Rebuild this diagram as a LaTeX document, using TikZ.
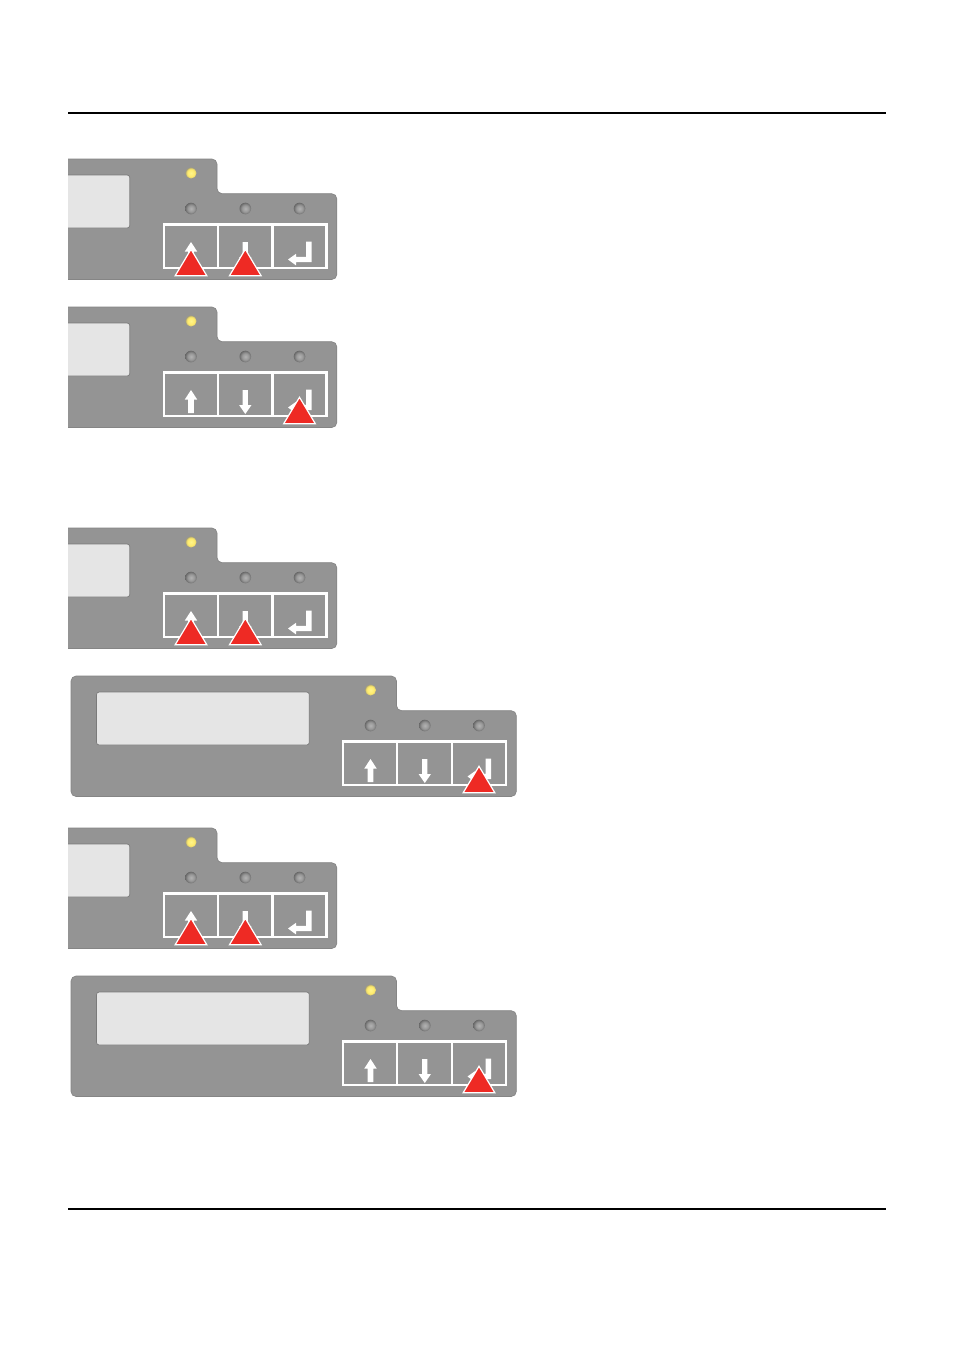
\documentclass[tikz,border=0pt]{standalone}
\definecolor{panelgrey}{HTML}{949494}
\definecolor{paneledge}{HTML}{858585}
\definecolor{dispfill}{HTML}{E5E5E5}
\definecolor{dispedge}{HTML}{7A7A7A}
\definecolor{redmark}{HTML}{EE2A24}
\pgfdeclareradialshading{ledgreyshade}{\pgfpoint{0.5bp}{-0.5bp}}{%
  rgb(0bp)=(0.70,0.70,0.70);rgb(14bp)=(0.60,0.60,0.60);rgb(21bp)=(0.50,0.50,0.50);rgb(25bp)=(0.40,0.40,0.40);rgb(50bp)=(0.40,0.40,0.40)}
\pgfdeclareradialshading{ledyellowshade}{\pgfpoint{0bp}{0bp}}{%
  rgb(0bp)=(1,0.96,0.55);rgb(16bp)=(1,0.92,0.42);rgb(21bp)=(0.88,0.82,0.45);rgb(25bp)=(0.66,0.63,0.45);rgb(50bp)=(0.66,0.63,0.45)}
\tikzset{
  x=0.75pt, y=-0.75pt,
  rulerline/.style={draw=black, line width=1.1pt},
  panelbody/.style={fill=panelgrey, draw=paneledge, line width=0.5pt, rounded corners=3.8pt},
  dispbox/.style={fill=dispfill, draw=dispedge, line width=0.5pt, rounded corners=2pt},
  keybox/.style={draw=white, line width=1.6pt},
  keyarrow/.style={fill=white, draw=none},
  redtriangle/.style={fill=redmark, draw=white, line width=0.9pt, line join=miter},
  ledgrey/.style={shading=ledgreyshade},
  ledyellow/.style={shading=ledyellowshade},
}
\newcommand{\ctrlpanel}[3]{%
  \begin{scope}[shift={(#1,#2)}]
    \begin{scope}
      \clip (#3,660) rectangle (530,810);
      \draw[panelbody] (71,676) -- (396.5,676) -- (396.5,710.7) -- (516.3,710.7) -- (516.3,796.5) -- (71,796.5) -- cycle;
      \draw[dispbox] (96.5,692) rectangle (309.3,745);
    \end{scope}
    \shade[ledyellow] (370.5,690) circle (5.6);
    \shade[ledgrey] (370.5,725.5) circle (5.8);
    \shade[ledgrey] (424.8,725.5) circle (5.8);
    \shade[ledgrey] (479,725.5) circle (5.8);
    \draw[keybox] (343.3,741.5) rectangle (506,785);
    \draw[keybox] (397.3,741.5) -- (397.3,785);
    \draw[keybox] (452,741.5) -- (452,785);
    \fill[keyarrow] (370.5,759) -- (376.7,768.5) -- (373.4,768.5) -- (373.4,782) -- (367.6,782) -- (367.6,768.5) -- (364.3,768.5) -- cycle;
    \fill[keyarrow] (424.8,783) -- (431,774) -- (427.4,774) -- (427.4,759) -- (422.2,759) -- (422.2,774) -- (418.6,774) -- cycle;
    \fill[keyarrow] (467.5,776.5) -- (475.5,770.8) -- (475.5,773.8) -- (485.5,773.8) -- (485.5,758.7) -- (491,758.7) -- (491,779.2) -- (475.5,779.2) -- (475.5,782.4) -- cycle;
  \end{scope}}
\newcommand{\redmark}[3]{%
  \draw[redtriangle, shift={(#2,#3)}] (#1,766.3) -- (#1+15.8,792.7) -- (#1-15.8,792.7) -- cycle;}
\begin{document}
\begin{tikzpicture}
  \useasboundingbox[fill=white] (0,0) rectangle (954,1350);
  \coordinate (ruleTopL) at (68,113);
  \coordinate (ruleTopR) at (886,113);
  \coordinate (ruleBotL) at (68,1209);
  \coordinate (ruleBotR) at (886,1209);
  \draw[rulerline] (ruleTopL) -- (ruleTopR);
  \draw[rulerline] (ruleBotL) -- (ruleBotR);

  \ctrlpanel{-179.5}{-517}{247.5}
  \redmark{370.5}{-179.5}{-517}
  \redmark{424.8}{-179.5}{-517}

  \ctrlpanel{-179.5}{-369}{247.5}
  \redmark{479}{-179.5}{-369}

  \ctrlpanel{-179.5}{-148}{247.5}
  \redmark{370.5}{-179.5}{-148}
  \redmark{424.8}{-179.5}{-148}

  \ctrlpanel{0}{0}{60}
  \redmark{479}{0}{0}

  \ctrlpanel{-179.5}{152}{247.5}
  \redmark{370.5}{-179.5}{152}
  \redmark{424.8}{-179.5}{152}

  \ctrlpanel{0}{300}{60}
  \redmark{479}{0}{300}
\end{tikzpicture}
\end{document}
